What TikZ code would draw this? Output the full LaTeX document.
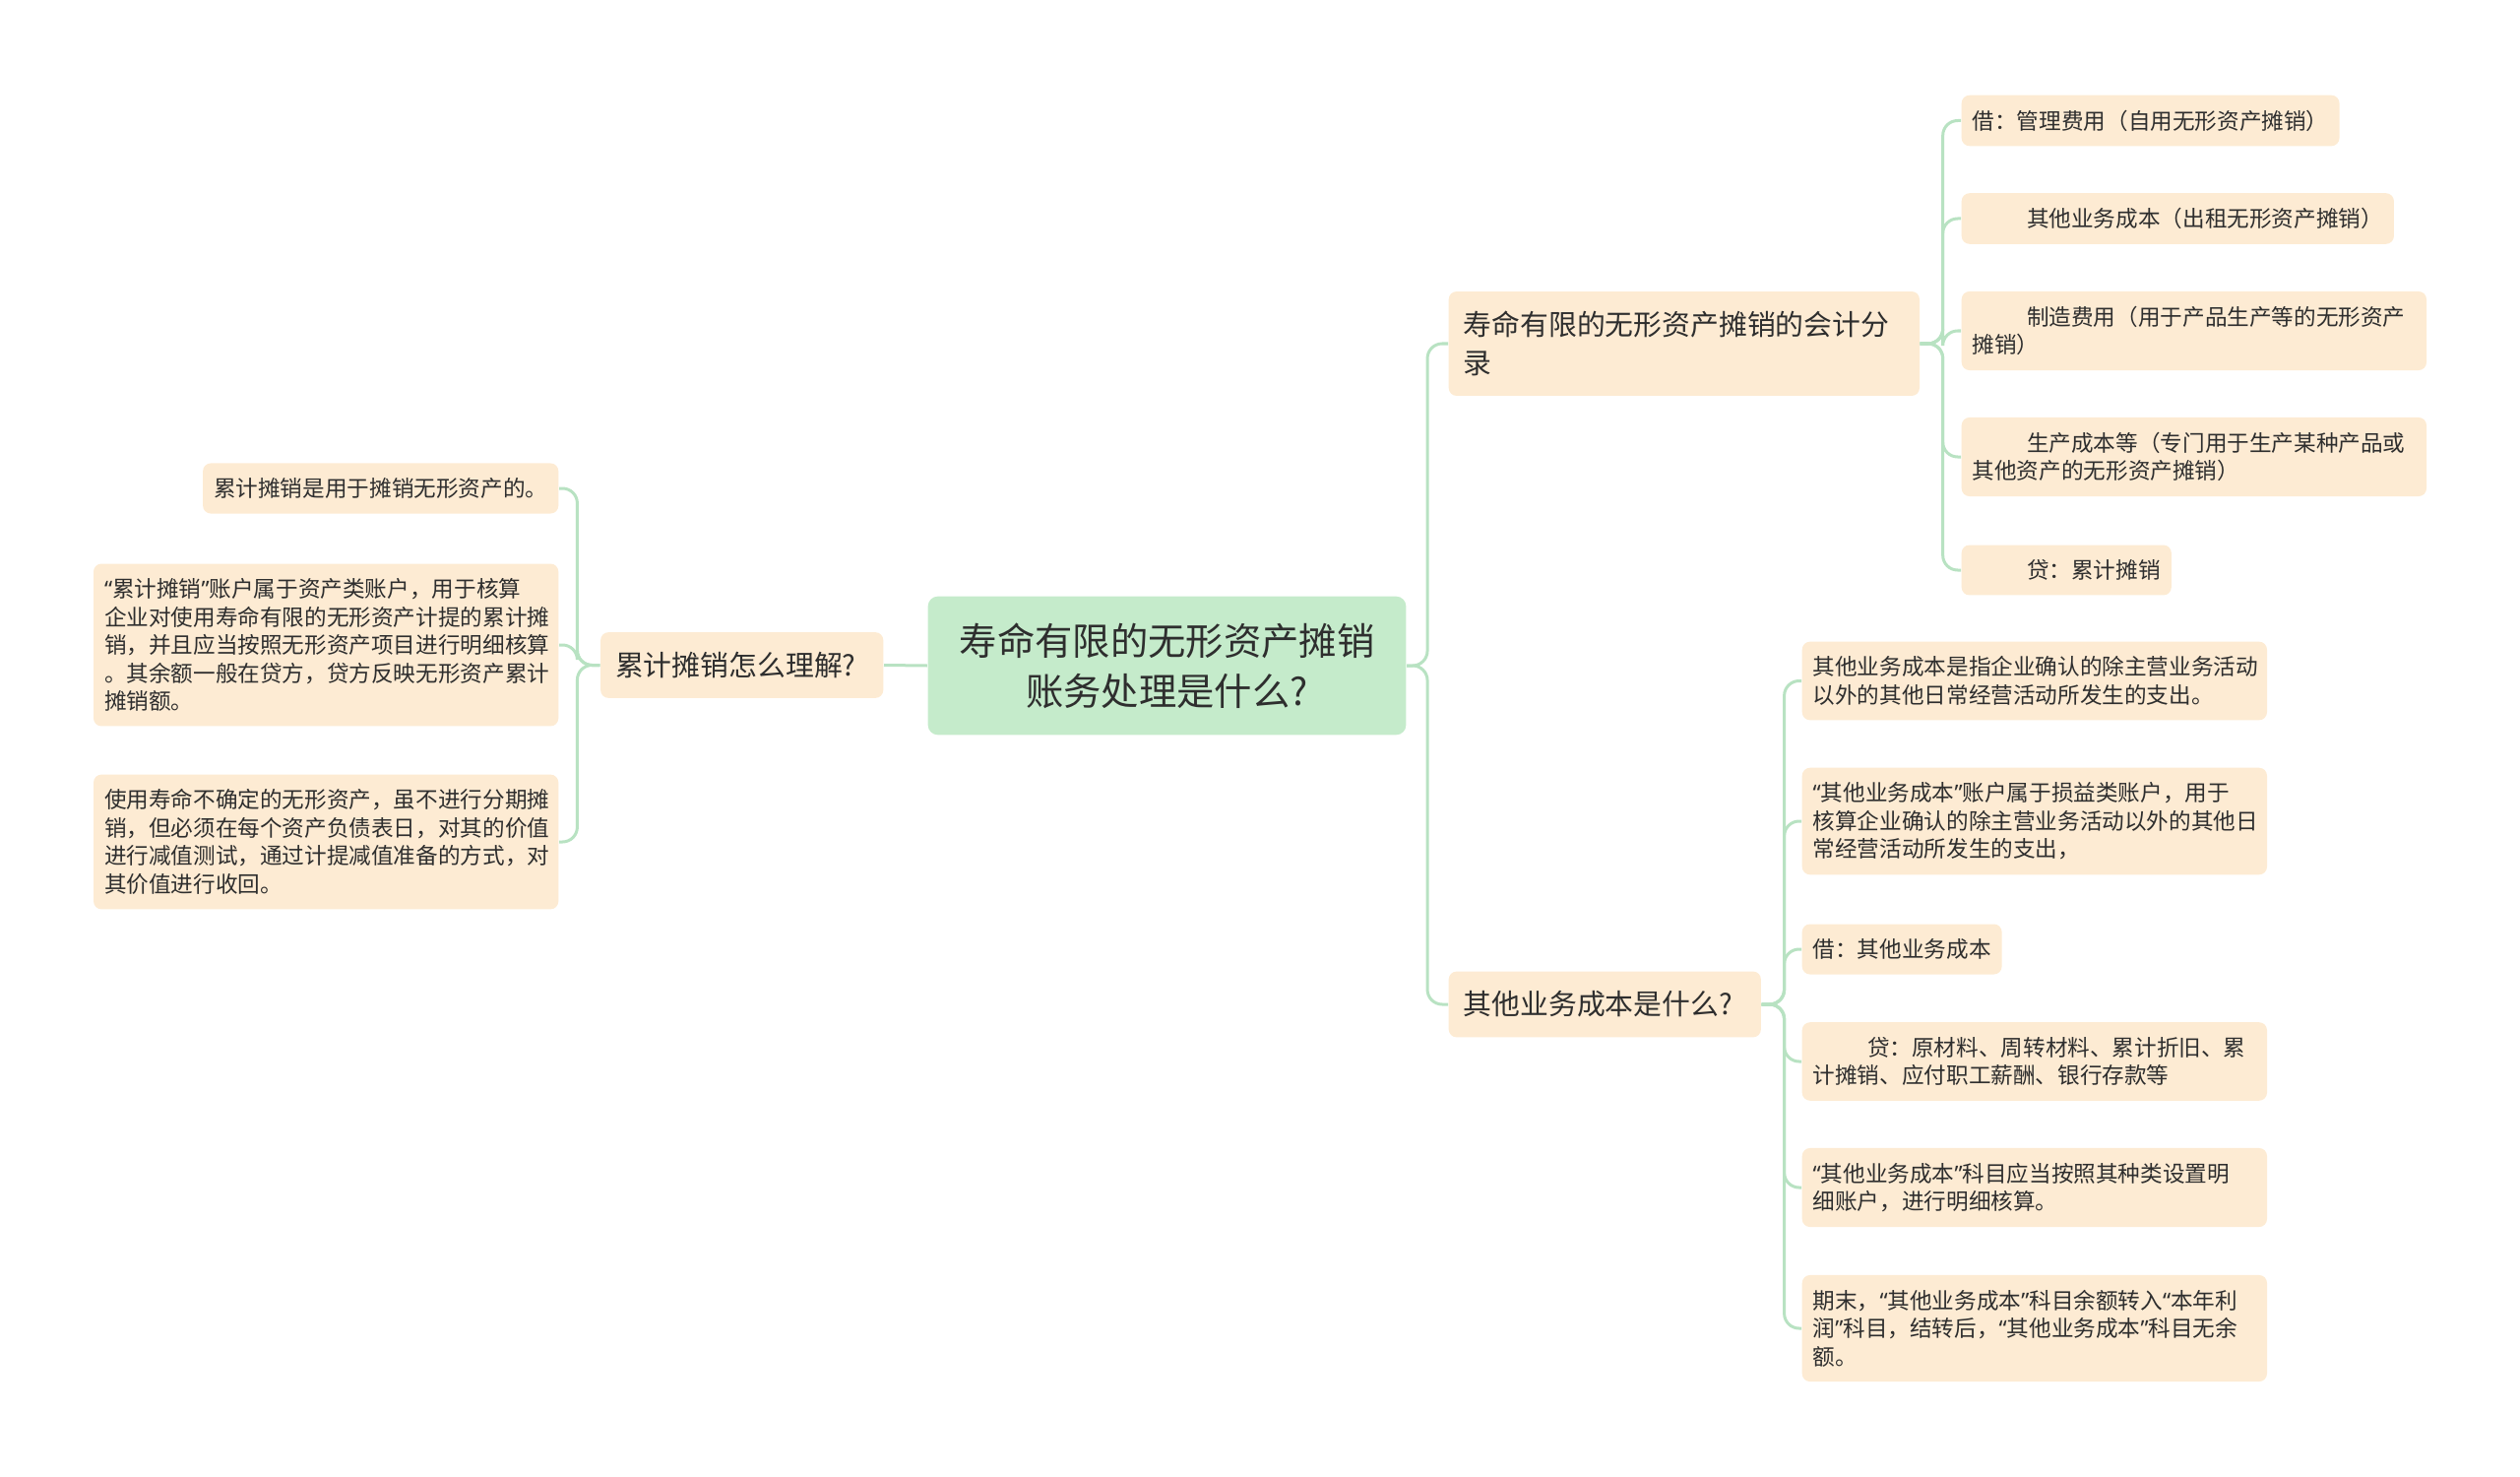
\documentclass[tikz,border=0pt]{standalone}
\usepackage{fontspec}
\newfontfamily\cjk{Noto Sans CJK SC}
\newfontfamily\quotefont{Noto Sans}

\definecolor{rootgreen}{HTML}{C5EBCB}
\definecolor{leafpeach}{HTML}{FDEBD3}
\definecolor{linkgreen}{HTML}{B8E2C2}
\definecolor{inkgray}{HTML}{2E2E2E}

\tikzset{
	topic/.style={fill=rootgreen, rounded corners=0.1cm, align=center, text=inkgray,
		inner xsep=0.32cm, inner ysep=0.27cm, font=\cjk\fontsize{10.9}{14.4}\selectfont},
	branch/.style={fill=leafpeach, rounded corners=0.08cm, align=left, text=inkgray,
		inner xsep=0.15cm, inner ysep=0.2cm, font=\cjk\fontsize{8.2}{11.1}\selectfont},
	leaf/.style={fill=leafpeach, rounded corners=0.08cm, align=left, text=inkgray,
		inner xsep=0.11cm, inner ysep=0.15cm, font=\cjk\fontsize{6.43}{8.1}\selectfont},
	wideleaf/.style={leaf, text width=4.5cm},
	link/.style={draw=linkgreen, line width=0.03cm, rounded corners=0.15cm}
}
\newcommand{\ind}{\hspace*{2.45em}}
\newcommand{\oq}{{\quotefont “}}
\newcommand{\cq}{{\quotefont ”}}

\begin{document}
\begin{tikzpicture}[x=0.01cm, y=-0.01cm]
\useasboundingbox (0, 0) rectangle (2560, 1500);

%centre
\node[topic] (root) at (1185.5, 676) {寿命有限的无形资产摊销\\账务处理是什么?};

%left side
\node[branch, text width=2.57cm, anchor=east] (understand) at (898, 675.5) {累计摊销怎么理解?};

\node[leaf, anchor=east] (define) at (568, 496) {累计摊销是用于摊销无形资产的。};
\node[wideleaf, anchor=east] (account) at (568, 655) {\oq 累计摊销\cq 账户属于资产类账户，用于核算\\企业对使用寿命有限的无形资产计提的累计摊\\销，并且应当按照无形资产项目进行明细核算\\。其余额一般在贷方，贷方反映无形资产累计\\摊销额。};
\node[wideleaf, anchor=east] (uncertain) at (568, 855) {使用寿命不确定的无形资产，虽不进行分期摊\\销，但必须在每个资产负债表日，对其的价值\\进行减值测试，通过计提减值准备的方式，对\\其价值进行收回。};

%right side, first branch
\node[branch, text width=4.48cm, anchor=west] (entry) at (1471, 349) {寿命有限的无形资产摊销的会计分\\录};

\node[leaf, anchor=west] (debitadmin) at (1992, 122.5) {借：管理费用（自用无形资产摊销）};
\node[leaf, anchor=west] (leaserent) at (1992, 222) {\ind 其他业务成本（出租无形资产摊销）};
\node[wideleaf, anchor=west] (mfg) at (1992, 336) {\ind 制造费用（用于产品生产等的无形资产\\摊销）};
\node[wideleaf, anchor=west] (prodcost) at (1992, 464) {\ind 生产成本等（专门用于生产某种产品或\\其他资产的无形资产摊销）};
\node[leaf, anchor=west] (creditamort) at (1992, 579) {\ind 贷：累计摊销};

%right side, second branch
\node[branch, text width=2.87cm, anchor=west] (othercost) at (1471, 1020) {其他业务成本是什么?};

\node[wideleaf, anchor=west] (meaning) at (1830, 691.5) {其他业务成本是指企业确认的除主营业务活动\\以外的其他日常经营活动所发生的支出。};
\node[wideleaf, anchor=west] (losstype) at (1830, 834) {\oq 其他业务成本\cq 账户属于损益类账户，用于\\核算企业确认的除主营业务活动以外的其他日\\常经营活动所发生的支出，};
\node[leaf, anchor=west] (debitother) at (1830, 964) {借：其他业务成本};
\node[wideleaf, anchor=west] (creditother) at (1830, 1078) {\ind 贷：原材料、周转材料、累计折旧、累\\计摊销、应付职工薪酬、银行存款等};
\node[wideleaf, anchor=west] (subledger) at (1830, 1206) {\oq 其他业务成本\cq 科目应当按照其种类设置明\\细账户，进行明细核算。};
\node[wideleaf, anchor=west] (closing) at (1830, 1349) {期末，\oq 其他业务成本\cq 科目余额转入\oq 本年利\\润\cq 科目，结转后，\oq 其他业务成本\cq 科目无余\\额。};

%links
\draw[link] (root.west) -- (understand.east);
\draw[link] (root.east) -- ++(21, 0) |- (entry.west);
\draw[link] (root.east) -- ++(21, 0) |- (othercost.west);

\foreach \n in {define, account, uncertain}
	\draw[link] (understand.west) -- ++(-23, 0) |- (\n.east);

\foreach \n in {debitadmin, leaserent, mfg, prodcost, creditamort}
	\draw[link] (entry.east) -- ++(23, 0) |- (\n.west);

\foreach \n in {meaning, losstype, debitother, creditother, subledger, closing}
	\draw[link] (othercost.east) -- ++(23, 0) |- (\n.west);

\end{tikzpicture}
\end{document}
